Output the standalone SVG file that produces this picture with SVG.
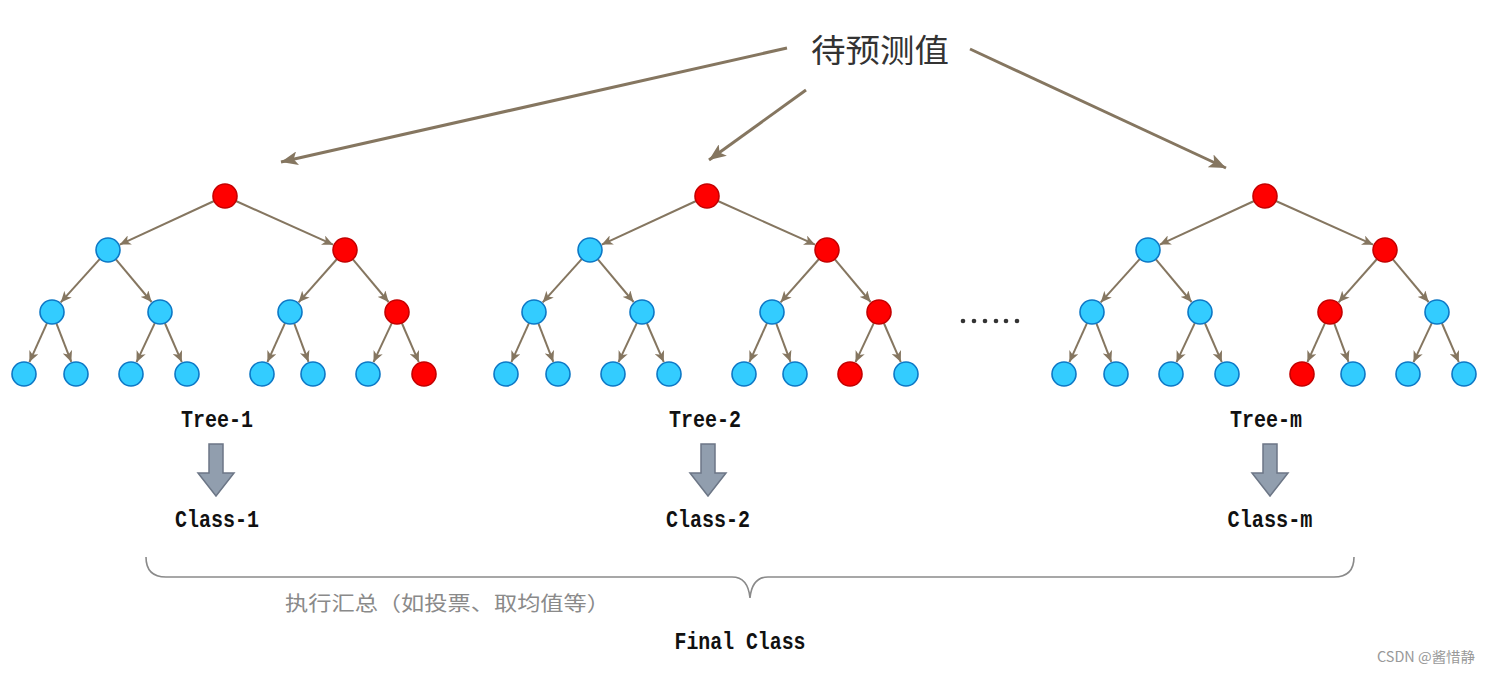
<svg xmlns="http://www.w3.org/2000/svg" width="1491" height="673" viewBox="0 0 1491 673">
<style>
.b{fill:#33ccff;stroke:#0d78c6;stroke-width:1.6}
.r{fill:#ff0000;stroke:#c40000;stroke-width:1.6}
.e{stroke:#857660;stroke-width:2;fill:none;marker-end:url(#ah)}
.big{stroke:#857660;stroke-width:3;fill:none;marker-end:url(#ahb)}
.lbl{font-family:"Liberation Mono",monospace;font-size:23px;font-weight:bold;fill:#111;text-anchor:middle}
.blk{fill:#919eae;stroke:#6c7686;stroke-width:1.5}
</style>
<defs>
<marker id="ah" markerUnits="userSpaceOnUse" markerWidth="12" markerHeight="10" refX="11" refY="5" orient="auto">
<path d="M0,0 L11,5 L0,10 L3,5 z" fill="#857660"/>
</marker>
<marker id="ahb" markerUnits="userSpaceOnUse" markerWidth="18" markerHeight="14" refX="17" refY="7" orient="auto">
<path d="M0,0 L17,7 L0,14 L4,7 z" fill="#857660"/>
</marker>
<g id="edges">
<path class="e" d="M-10.9,201 L-105.2,244.6"/>
<path class="e" d="M10.9,201 L108.1,244.7"/>
<path class="e" d="M-125.1,258.9 L-164.3,302.4"/>
<path class="e" d="M-109.3,259.2 L-73.4,302"/>
<path class="e" d="M112,259 L73.6,302.3"/>
<path class="e" d="M127.7,259.2 L163.6,302"/>
<path class="e" d="M-177.9,322.9 L-195.6,362.1"/>
<path class="e" d="M-168.7,323.2 L-153.7,361.9"/>
<path class="e" d="M-70.1,322.9 L-88.5,362.2"/>
<path class="e" d="M-60.2,323 L-43.2,362.1"/>
<path class="e" d="M60.1,322.9 L42.4,362.1"/>
<path class="e" d="M69.2,323.3 L83.5,361.8"/>
<path class="e" d="M166.9,322.9 L148.5,362.2"/>
<path class="e" d="M176.8,323 L193.8,362.1"/>
</g>
</defs>
<rect width="1491" height="673" fill="#ffffff"/>
<g id="connectors">
<line class="big" x1="787" y1="48" x2="281" y2="162"/>
<line class="big" x1="806" y1="90" x2="709" y2="160"/>
<line class="big" x1="970" y1="49" x2="1226" y2="168"/>
<use href="#edges" transform="translate(225,0)"/>
<use href="#edges" transform="translate(707,0)"/>
<use href="#edges" transform="translate(1265,0)"/>
</g>
<g id="title"><text x="880" y="62" font-family="'Noto Sans CJK SC',sans-serif" font-size="32" fill="#333" text-anchor="middle" textLength="138" lengthAdjust="spacingAndGlyphs">待预测值</text></g>
<g id="tree-1">
<circle class="r" cx="225" cy="196" r="12"/>
<circle class="b" cx="108" cy="250" r="12"/><circle class="r" cx="345" cy="250" r="12"/>
<circle class="b" cx="52" cy="312" r="12"/><circle class="b" cx="160" cy="312" r="12"/><circle class="b" cx="290" cy="312" r="12"/><circle class="r" cx="397" cy="312" r="12"/>
<circle class="b" cx="24" cy="374" r="12"/><circle class="b" cx="76" cy="374" r="12"/><circle class="b" cx="131" cy="374" r="12"/><circle class="b" cx="187" cy="374" r="12"/><circle class="b" cx="262" cy="374" r="12"/><circle class="b" cx="313" cy="374" r="12"/><circle class="b" cx="368" cy="374" r="12"/><circle class="r" cx="424" cy="374" r="12"/>
<text class="lbl" x="217" y="427" textLength="72" lengthAdjust="spacingAndGlyphs">Tree-1</text>
<polygon class="blk" points="209,444 223,444 223,473 234,473 216,496 198,473 209,473"/>
<text class="lbl" x="217" y="527" textLength="84" lengthAdjust="spacingAndGlyphs">Class-1</text>
</g>
<g id="tree-2">
<circle class="r" cx="707" cy="196" r="12"/>
<circle class="b" cx="590" cy="250" r="12"/><circle class="r" cx="827" cy="250" r="12"/>
<circle class="b" cx="534" cy="312" r="12"/><circle class="b" cx="642" cy="312" r="12"/><circle class="b" cx="772" cy="312" r="12"/><circle class="r" cx="879" cy="312" r="12"/>
<circle class="b" cx="506" cy="374" r="12"/><circle class="b" cx="558" cy="374" r="12"/><circle class="b" cx="613" cy="374" r="12"/><circle class="b" cx="669" cy="374" r="12"/><circle class="b" cx="744" cy="374" r="12"/><circle class="b" cx="795" cy="374" r="12"/><circle class="r" cx="850" cy="374" r="12"/><circle class="b" cx="906" cy="374" r="12"/>
<text class="lbl" x="705" y="427" textLength="72" lengthAdjust="spacingAndGlyphs">Tree-2</text>
<polygon class="blk" points="701,444 715,444 715,473 726,473 708,496 690,473 701,473"/>
<text class="lbl" x="708" y="527" textLength="84" lengthAdjust="spacingAndGlyphs">Class-2</text>
</g>
<g id="dots" fill="#333">
<circle cx="963" cy="321" r="2.3"/><circle cx="974" cy="321" r="2.3"/><circle cx="985" cy="321" r="2.3"/><circle cx="996" cy="321" r="2.3"/><circle cx="1006" cy="321" r="2.3"/><circle cx="1017" cy="321" r="2.3"/>
</g>
<g id="tree-m">
<circle class="r" cx="1265" cy="196" r="12"/>
<circle class="b" cx="1148" cy="250" r="12"/><circle class="r" cx="1385" cy="250" r="12"/>
<circle class="b" cx="1092" cy="312" r="12"/><circle class="b" cx="1200" cy="312" r="12"/><circle class="r" cx="1330" cy="312" r="12"/><circle class="b" cx="1437" cy="312" r="12"/>
<circle class="b" cx="1064" cy="374" r="12"/><circle class="b" cx="1116" cy="374" r="12"/><circle class="b" cx="1171" cy="374" r="12"/><circle class="b" cx="1227" cy="374" r="12"/><circle class="r" cx="1302" cy="374" r="12"/><circle class="b" cx="1353" cy="374" r="12"/><circle class="b" cx="1408" cy="374" r="12"/><circle class="b" cx="1464" cy="374" r="12"/>
<text class="lbl" x="1266" y="427" textLength="72" lengthAdjust="spacingAndGlyphs">Tree-m</text>
<polygon class="blk" points="1263,444 1277,444 1277,473 1288,473 1270,496 1252,473 1263,473"/>
<text class="lbl" x="1270" y="527" textLength="85" lengthAdjust="spacingAndGlyphs">Class-m</text>
</g>
<g id="brace">
<path d="M146,557 Q146,577 166,577 L732,577 Q748,577 750,598 Q752,577 768,577 L1334,577 Q1354,577 1354,557" fill="none" stroke="#8a8a8a" stroke-width="1.6"/>
<text x="285" y="611" font-family="'Noto Sans CJK SC',sans-serif" font-size="20" fill="#8a8a8a" textLength="325" lengthAdjust="spacingAndGlyphs">执行汇总（如投票、取均值等）</text>
</g>
<g id="final"><text class="lbl" x="740" y="649" textLength="131" lengthAdjust="spacingAndGlyphs">Final Class</text></g>
<text x="1377" y="662" font-family="'Noto Sans CJK SC',sans-serif" font-size="14" fill="#999" textLength="98" lengthAdjust="spacingAndGlyphs">CSDN @酱惜静</text>
</svg>
